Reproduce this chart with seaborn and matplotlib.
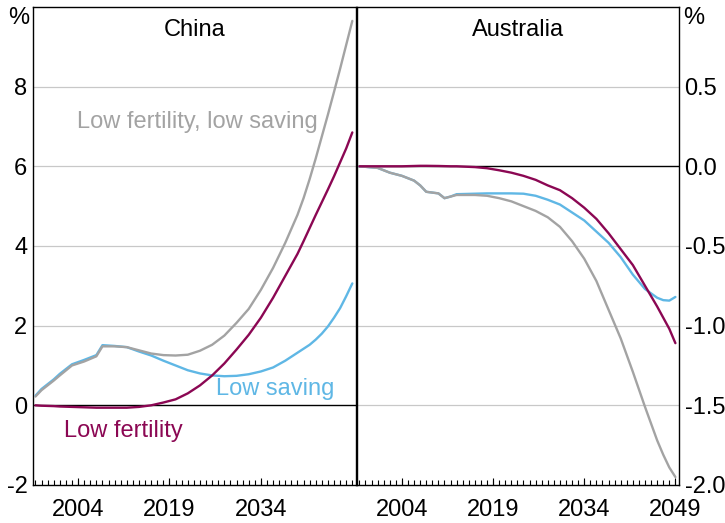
import matplotlib
matplotlib.use('Agg')
import matplotlib.pyplot as plt
import seaborn as sns
import pandas as pd

sns.set_style('ticks')
plt.rcParams['font.family'] = ['Liberation Sans', 'DejaVu Sans']
plt.rcParams['text.color'] = 'black'

GREY = '#a3a3a3'
BLUE = '#5fb7e5'
PURPLE = '#8b0753'

# China (% deviation)
cn_years = [1997, 1998, 2000, 2001, 2003, 2005, 2007, 2008, 2010, 2012, 2014, 2016,
            2018, 2020, 2022, 2024, 2026, 2028, 2030, 2032, 2034, 2036, 2038, 2040,
            2041, 2042, 2043, 2044, 2045, 2046, 2047, 2048, 2049]
cn_low_fert_low_sav = [0.22, 0.38, 0.62, 0.75, 1.0, 1.1, 1.23, 1.48, 1.48, 1.46, 1.38, 1.3,
                       1.26, 1.25, 1.27, 1.37, 1.52, 1.75, 2.07, 2.42, 2.9, 3.45, 4.08, 4.78,
                       5.2, 5.68, 6.2, 6.75, 7.3, 7.87, 8.45, 9.05, 9.65]
cn_low_sav = [0.24, 0.41, 0.65, 0.79, 1.03, 1.14, 1.26, 1.51, 1.49, 1.46, 1.35, 1.25,
              1.12, 1.0, 0.88, 0.8, 0.75, 0.73, 0.74, 0.78, 0.85, 0.95, 1.12, 1.32,
              1.42, 1.52, 1.65, 1.8, 1.98, 2.2, 2.44, 2.74, 3.06]
cn_low_fert = [0.0, -0.01, -0.02, -0.03, -0.04, -0.05, -0.06, -0.06, -0.06, -0.06, -0.04, 0.0,
               0.07, 0.15, 0.3, 0.5, 0.75, 1.05, 1.4, 1.77, 2.2, 2.7, 3.25, 3.8,
               4.12, 4.45, 4.78, 5.1, 5.42, 5.75, 6.1, 6.45, 6.85]

# Australia (% deviation)
au_years = [1997, 2000, 2002, 2004, 2006, 2007, 2008, 2010, 2011, 2012, 2013, 2016,
            2018, 2020, 2022, 2024, 2026, 2028, 2030, 2032, 2034, 2036, 2038, 2040,
            2042, 2044, 2046, 2047, 2048, 2049]
au_low_fert_low_sav = [0.0, -0.01, -0.04, -0.06, -0.09, -0.12, -0.16, -0.17, -0.2, -0.19, -0.18, -0.18,
                       -0.185, -0.2, -0.22, -0.25, -0.28, -0.32, -0.38, -0.47, -0.58, -0.72, -0.9, -1.08,
                       -1.29, -1.51, -1.72, -1.81, -1.89, -1.95]
au_low_sav = [0.0, -0.01, -0.04, -0.06, -0.09, -0.12, -0.16, -0.17, -0.2, -0.19, -0.175, -0.172,
              -0.17, -0.17, -0.17, -0.172, -0.185, -0.21, -0.24, -0.29, -0.34, -0.41, -0.48, -0.57,
              -0.68, -0.77, -0.825, -0.84, -0.843, -0.82]
au_low_fert = [0.0, 0.0, 0.0, 0.0, 0.002, 0.003, 0.003, 0.002, 0.001, 0.0, 0.0, -0.005,
               -0.012, -0.025, -0.04, -0.06, -0.085, -0.12, -0.15, -0.2, -0.26, -0.33, -0.42, -0.52,
               -0.62, -0.75, -0.88, -0.95, -1.02, -1.11]

tick_years = list(range(1997, 2050))


def frame(years, vals, name):
    return pd.DataFrame({'year': years, 'value': vals, 'scenario': name})


china = pd.concat([frame(cn_years, cn_low_sav, 'Low saving'),
                   frame(cn_years, cn_low_fert_low_sav, 'Low fertility, low saving'),
                   frame(cn_years, cn_low_fert, 'Low fertility')])
aus = pd.concat([frame(au_years, au_low_sav, 'Low saving'),
                 frame(au_years, au_low_fert_low_sav, 'Low fertility, low saving'),
                 frame(au_years, au_low_fert, 'Low fertility')])
palette = {'Low saving': BLUE, 'Low fertility, low saving': GREY, 'Low fertility': PURPLE}

fig = plt.figure(figsize=(7.25, 5.23), dpi=100)
ax1 = fig.add_axes([0.0455, 0.0727, 0.4455, 0.914])
ax2 = fig.add_axes([0.4924, 0.0727, 0.4442, 0.914])

FS = 17
for ax, df, ylim, yt, ylab, title in [
        (ax1, china, (-2, 10), [-2, 0, 2, 4, 6, 8], ['-2', '0', '2', '4', '6', '8'], 'China'),
        (ax2, aus, (-2.0, 1.0), [-2.0, -1.5, -1.0, -0.5, 0.0, 0.5],
         ['-2.0', '-1.5', '-1.0', '-0.5', '0.0', '0.5'], 'Australia')]:
    for y in yt[1:]:
        if y != 0:
            ax.axhline(y, color='#c8c8c8', lw=0.9, zorder=1)
    ax.axhline(0, color='black', lw=1.0, zorder=1)
    sns.lineplot(data=df, x='year', y='value', hue='scenario', palette=palette,
                 hue_order=['Low saving', 'Low fertility, low saving', 'Low fertility'],
                 lw=1.7, legend=False, ax=ax, zorder=3)
    # yearly tick marks along the bottom edge
    ax.vlines(tick_years, 0, 0.011, transform=ax.get_xaxis_transform(),
              color='black', lw=0.8, zorder=4)
    ax.set_xlim(1996.6, 2049.6)
    ax.set_ylim(*ylim)
    ax.set_yticks(yt)
    ax.set_yticklabels(ylab)
    ax.set_xlabel('')
    ax.set_ylabel('')
    for s in ax.spines.values():
        s.set_visible(True)
        s.set_color('black')
        s.set_linewidth(1.0)
    ax.text(0.5, 0.975, title, transform=ax.transAxes, ha='center', va='top', fontsize=FS)

ax1.set_xticks([2004, 2019, 2034])
ax2.set_xticks([2004, 2019, 2034, 2049])
ax2.yaxis.tick_right()
for ax in (ax1, ax2):
    ax.tick_params(axis='x', which='both', bottom=True, top=False, direction='in',
                   length=5, width=0.8, color='black', labelsize=FS, pad=10,
                   labelcolor='black')
    ax.tick_params(axis='y', which='both', length=0, labelsize=FS, pad=4,
                   labelcolor='black')

fig.text(0.011, 0.965, '%', fontsize=FS, ha='left', va='center')
fig.text(0.942, 0.965, '%', fontsize=FS, ha='left', va='center')

ax1.text(2023.55, 7.12, 'Low fertility, low saving', color=GREY, fontsize=FS, ha='center', va='center')
ax1.text(2036.3, 0.42, 'Low saving', color=BLUE, fontsize=FS, ha='center', va='center')
ax1.text(2011.5, -0.65, 'Low fertility', color=PURPLE, fontsize=FS, ha='center', va='center')

fig.savefig('out.png', dpi=100)
